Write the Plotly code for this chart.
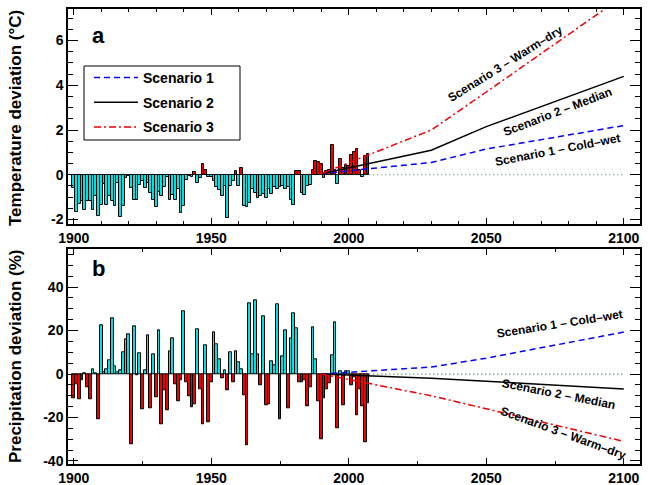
import plotly.graph_objects as go

# ---------------- data ----------------
years = list(range(1900, 2008))

temp_dev = [
    -0.6, -1.68, -1.3, -1.19, -1.56, -1.19, -1.15, -1.56, -0.97, -1.86,
    -1.34, -0.4, -1.34, -0.97, -1.19, -1.38, -0.37, -1.89, -1.38, -0.15,
    -0.07, -0.6, -1.12, -1.12, -0.45, -0.3, -0.6, -0.37, -0.82, -1.12,
    -1.44, -0.79, -0.97, -0.55, -0.1, -1.12, -0.9, -1.12, -0.64, -1.71,
    -1.41, -0.22, -0.05, -0.1, 0.12, -0.37, -0.15, 0.48, 0.22, -0.1,
    -0.1, -0.3, -0.55, -0.67, -0.97, -0.5, -1.93, -0.5, -0.3, 0.18,
    -0.5, 0.3, -1.38, -1.44, -1.26, -0.65, -0.82, -1.04, -0.97, -0.85,
    -1.05, -0.65, -0.85, -0.55, -0.65, -0.55, -0.5, -0.65, -0.55, -1.12,
    -1.34, 0.19, 0.19, -0.82, -0.89, -0.5, -0.45, 0.22, 0.63, 0.55,
    0.49, -0.15, 0.15, 0.22, 1.32, 0.2, -0.42, 0.7, 0.3, 0.45,
    0.4, 0.9, 1.04, 1.16, 0.2, -0.1, 0.85, 0.94,
]

prec_dev = [
    -11, -4.8, -11.7, -2.8, 0.5, -6.2, -11.7, 2.4, 0.3, -21,
    22.4, 0.7, 2, 6.4, 25.6, 3.6, 0.6, 1.8, 9.8, 16.2,
    18.2, -32.3, 21.8, -0.8, 9.5, -16.2, 1.5, 17.6, -15.6, 9,
    -10.5, 20, -23, -7.4, -16.6, 10.4, 16.4, -4.8, -12.5, -2.8,
    28.7, -3.6, -10.2, -15.4, -14, 20.8, -7, -23, 13.1, -22,
    -4, 19, 13.7, 7, -2, 1.5, -7.4, 9.8, -4, 10.4,
    5.3, 2.2, -10, -33, 32.5, 9, 34, 9, -5.4, 26.4,
    -14.6, -14, 6, 4.1, 32, -21, 8, 20, -15.6, 16.4,
    27.9, 21.1, -3.6, -3.6, -3.1, -14.8, -6.2, 21.4, 6.8, -12.5,
    -30.2, -11, -7, -4.4, 8.5, 23.8, -25, 1.3, -14.3, 1.3,
    1.3, -5, -1.6, -19, -7.1, -14.8, -31.2, -13.6,
]

scen_years = [1990, 2030, 2050, 2100]
temp_s1 = [0.05, 0.55, 1.15, 2.2]
temp_s2 = [0.05, 1.1, 2.15, 4.4]
temp_s3 = [0.05, 2.0, 3.7, 8.0]
prec_s1 = [0, 3.2, 7.3, 19.3]
prec_s2 = [0, -1.9, -3.3, -6.9]
prec_s3 = [0, -10, -16, -31]

scen_names = ["Scenario 1", "Scenario 2", "Scenario 3"]
temp_labels = ["Scenario 1 – Cold–wet", "Scenario 2 – Median", "Scenario 3 – Warm–dry"]
prec_labels = ["Scenario 1 – Cold–wet", "Scenario 2 – Median", "Scenario 3 – Warm–dry"]

x_tickvals = [1900, 1950, 2000, 2050, 2100]
x_ticktext = ["1900", "1950", "2000", "2050", "2100"]
t_tickvals = [-2, 0, 2, 4, 6]
t_ticktext = ["-2", "0", "2", "4", "6"]
p_tickvals = [-40, -20, 0, 20, 40]
p_ticktext = ["-40", "-20", "0", "20", "40"]

# ---------------- style ----------------
FONT = "Liberation Sans"
CYAN = "#00E2E2"
RED = "#EE0000"
BLUE = "#0000FF"
GREEN = "#118855"
W, H = 651, 485
L, R, T, B = 68, 11, 9, 21


def px(xp, yp):
    """window pixel -> paper fraction"""
    return (xp - L) / (W - L - R), (H - B - yp) / (H - T - B)


def bold(size):
    return dict(family=FONT, size=size, color="black", weight="bold")


fig = go.Figure()

temp_colors = [CYAN if v < 0 else RED for v in temp_dev]
prec_colors = [CYAN if v > 0 else RED for v in prec_dev]

fig.add_trace(go.Bar(x=years, y=temp_dev, width=1,
                     marker=dict(color=temp_colors, line=dict(color="black", width=1)),
                     showlegend=False, xaxis="x", yaxis="y"))
fig.add_trace(go.Bar(x=years, y=prec_dev, width=1,
                     marker=dict(color=prec_colors, line=dict(color="black", width=1)),
                     showlegend=False, xaxis="x2", yaxis="y2"))

styles = [dict(color=BLUE, dash="6px,4px", width=1.5),
          dict(color="black", width=1.5),
          dict(color=RED, dash="7px,3px,2px,3px", width=1.5)]

zero = [0 for _ in scen_years]
for ax_x, ax_y in (("x", "y"), ("x2", "y2")):
    fig.add_trace(go.Scatter(x=scen_years, y=zero, mode="lines",
                             line=dict(color=GREEN, dash="1px,3px", width=1.2),
                             showlegend=False, xaxis=ax_x, yaxis=ax_y, hoverinfo="skip"))

for i, (ts, ps) in enumerate(zip([temp_s1, temp_s2, temp_s3], [prec_s1, prec_s2, prec_s3])):
    fig.add_trace(go.Scatter(x=scen_years, y=ts, mode="lines", line=styles[i],
                             name=scen_names[i], legendgroup=scen_names[i],
                             showlegend=True, xaxis="x", yaxis="y"))
    fig.add_trace(go.Scatter(x=scen_years, y=ps, mode="lines", line=styles[i],
                             name=scen_names[i], legendgroup=scen_names[i],
                             showlegend=False, xaxis="x2", yaxis="y2"))

xcommon = dict(range=[1897.9, 2105.9], tickvals=x_tickvals, ticktext=x_ticktext,
               ticks="inside", ticklen=6, tickwidth=1, tickcolor="black",
               showline=True, linecolor="black", linewidth=1.5, mirror="allticks",
               showgrid=False, zeroline=False, tickfont=bold(14), automargin=False)

ycommon = dict(ticks="inside", ticklen=10, tickwidth=1, tickcolor="black",
               showline=True, linecolor="black", linewidth=1.5, mirror="allticks",
               showgrid=False, zeroline=False, tickfont=bold(14), automargin=False)

lg_x, lg_y = px(89, 62)
box0 = px(84, 66)
box1 = px(240, 140)

fig.update_layout(
    width=W, height=H,
    margin=dict(l=L, r=R, t=T, b=B, autoexpand=False),
    paper_bgcolor="white", plot_bgcolor="white",
    bargap=0, barmode="overlay",
    font=dict(family=FONT, color="black"),
    xaxis=dict(domain=[0, 1], anchor="y",
               minor=dict(dtick=10, tick0=1900, ticklen=3, ticks="inside", tickcolor="black"),
               **xcommon),
    yaxis=dict(domain=[0.5275, 1], anchor="x", range=[-2.2, 7.41],
               tickvals=t_tickvals, ticktext=t_ticktext,
               minor=dict(dtick=0.5, tick0=0, ticklen=5, ticks="inside", tickcolor="black"),
               **ycommon),
    xaxis2=dict(domain=[0, 1], anchor="y2",
                minor=dict(dtick=25, tick0=1900, ticklen=3, ticks="inside", tickcolor="black"),
                **xcommon),
    yaxis2=dict(domain=[0, 0.4719], anchor="x2", range=[-41.4, 57.4],
                tickvals=p_tickvals, ticktext=p_ticktext,
                minor=dict(dtick=5, tick0=0, ticklen=5, ticks="inside", tickcolor="black"),
                **ycommon),
    legend=dict(x=lg_x, y=lg_y, xanchor="left", yanchor="top",
                borderwidth=0, bgcolor="rgba(0,0,0,0)",
                font=bold(14), itemwidth=44, tracegroupgap=3.5,
                traceorder="grouped"),
    showlegend=True,
    shapes=[dict(type="rect", xref="paper", yref="paper",
                 x0=box0[0], y0=box0[1], x1=box1[0], y1=box1[1],
                 line=dict(color="black", width=1), fillcolor="white", layer="above")],
)

ann = []
# panel letters
for letter, (xp, yp) in (("a", (98, 35)), ("b", (98, 268))):
    ax_, ay_ = px(xp, yp)
    ann.append(dict(text=letter, x=ax_, y=ay_, xref="paper", yref="paper",
                    showarrow=False, font=bold(22), xanchor="center", yanchor="middle"))
# axis titles
for title, yp in (("Temperature deviation (°C)", 118), ("Precipitation deviation (%)", 357)):
    ax_, ay_ = px(15, yp)
    ann.append(dict(text=title, x=ax_, y=ay_, xref="paper", yref="paper",
                    showarrow=False, textangle=-90, font=bold(17),
                    xanchor="center", yanchor="middle"))
# scenario labels (top panel)
for lab, (xp, yp), ang in zip(temp_labels, [(557, 150), (557, 112), (505, 64)], [-11, -21, -32]):
    ax_, ay_ = px(xp, yp)
    ann.append(dict(text=lab, x=ax_, y=ay_, xref="paper", yref="paper",
                    showarrow=False, textangle=ang, font=bold(12),
                    xanchor="center", yanchor="middle"))
# scenario labels (bottom panel)
for lab, (xp, yp), ang in zip(prec_labels, [(559, 324), (558, 394), (563, 433)], [-9, 11, 20]):
    ax_, ay_ = px(xp, yp)
    ann.append(dict(text=lab, x=ax_, y=ay_, xref="paper", yref="paper",
                    showarrow=False, textangle=ang, font=bold(12),
                    xanchor="center", yanchor="middle"))

fig.update_layout(annotations=ann)

# remove the default 8px page margin so the figure fills the window exactly
fig.write_html("out.html",
               config={"displayModeBar": False},
               post_script="document.body.style.margin='0px';document.body.style.overflow='hidden';")
